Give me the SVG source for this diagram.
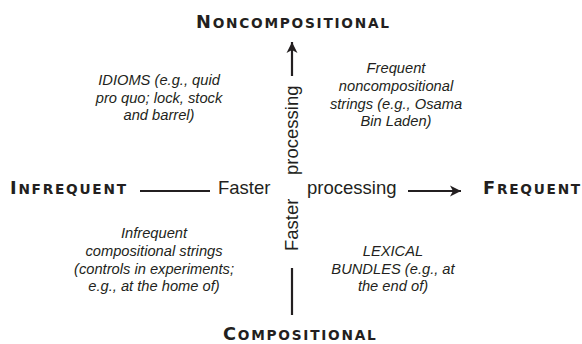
<svg xmlns="http://www.w3.org/2000/svg" width="582" height="344" viewBox="0 0 582 344">
<style>
.cap{font-family:"DejaVu Sans",sans-serif;font-weight:bold;fill:#231f20;letter-spacing:1.75px;font-size:13.7px}
.big{font-size:17.8px}
.lab{font-family:"Liberation Sans",Arial,sans-serif;font-size:18.5px;fill:#231f20}
.it{font-family:"Liberation Sans",Arial,sans-serif;font-style:italic;font-size:14.7px;fill:#231f20;text-anchor:middle}
.ln{stroke:#231f20;stroke-width:2.2;fill:none}
</style>
<defs>
<marker id="ah" markerUnits="userSpaceOnUse" markerWidth="14" markerHeight="14" refX="12" refY="6" orient="auto" viewBox="0 0 14 12">
<path d="M12,6 L1,0.5 L4,6 L1,11.5 Z" fill="#231f20"/>
</marker>
</defs>
<g id="axis-top"><text class="cap" x="196" y="28"><tspan class="big">N</tspan>ONCOMPOSITIONAL</text></g>
<g id="axis-bottom"><text class="cap" x="223" y="339.5"><tspan class="big">C</tspan>OMPOSITIONAL</text></g>
<g id="axis-left"><text class="cap" x="10" y="194"><tspan class="big">I</tspan>NFREQUENT</text></g>
<g id="axis-right"><text class="cap" x="483" y="194"><tspan class="big">F</tspan>REQUENT</text></g>
<g id="connectors">
<line class="ln" x1="292" y1="76" x2="292" y2="42" marker-end="url(#ah)"/>
<line class="ln" x1="292" y1="268" x2="292" y2="315"/>
<line class="ln" x1="140" y1="191" x2="210" y2="191"/>
<line class="ln" x1="408" y1="191" x2="461" y2="191" marker-end="url(#ah)"/>
</g>
<g id="label-horizontal">
<text class="lab" x="218" y="194">Faster</text>
<text class="lab" x="307" y="194">processing</text>
</g>
<g id="label-vertical">
<text class="lab" transform="translate(298,251) rotate(-90)">Faster</text>
<text class="lab" transform="translate(298,175) rotate(-90)">processing</text>
</g>
<g id="q-top-left">
<text class="it" x="159" y="85">IDIOMS (e.g., quid</text>
<text class="it" x="159" y="102.5">pro quo; lock, stock</text>
<text class="it" x="159" y="120">and barrel)</text>
</g>
<g id="q-top-right">
<text class="it" x="396" y="73">Frequent</text>
<text class="it" x="396" y="91">noncompositional</text>
<text class="it" x="396" y="108.5">strings (e.g., Osama</text>
<text class="it" x="396" y="126">Bin Laden)</text>
</g>
<g id="q-bottom-left">
<text class="it" x="154" y="238">Infrequent</text>
<text class="it" x="154" y="256">compositional strings</text>
<text class="it" x="154" y="273.5">(controls in experiments;</text>
<text class="it" x="154" y="291">e.g., at the home of)</text>
</g>
<g id="q-bottom-right">
<text class="it" x="393" y="256">LEXICAL</text>
<text class="it" x="393" y="273.5">BUNDLES (e.g., at</text>
<text class="it" x="393" y="291">the end of)</text>
</g>
</svg>
